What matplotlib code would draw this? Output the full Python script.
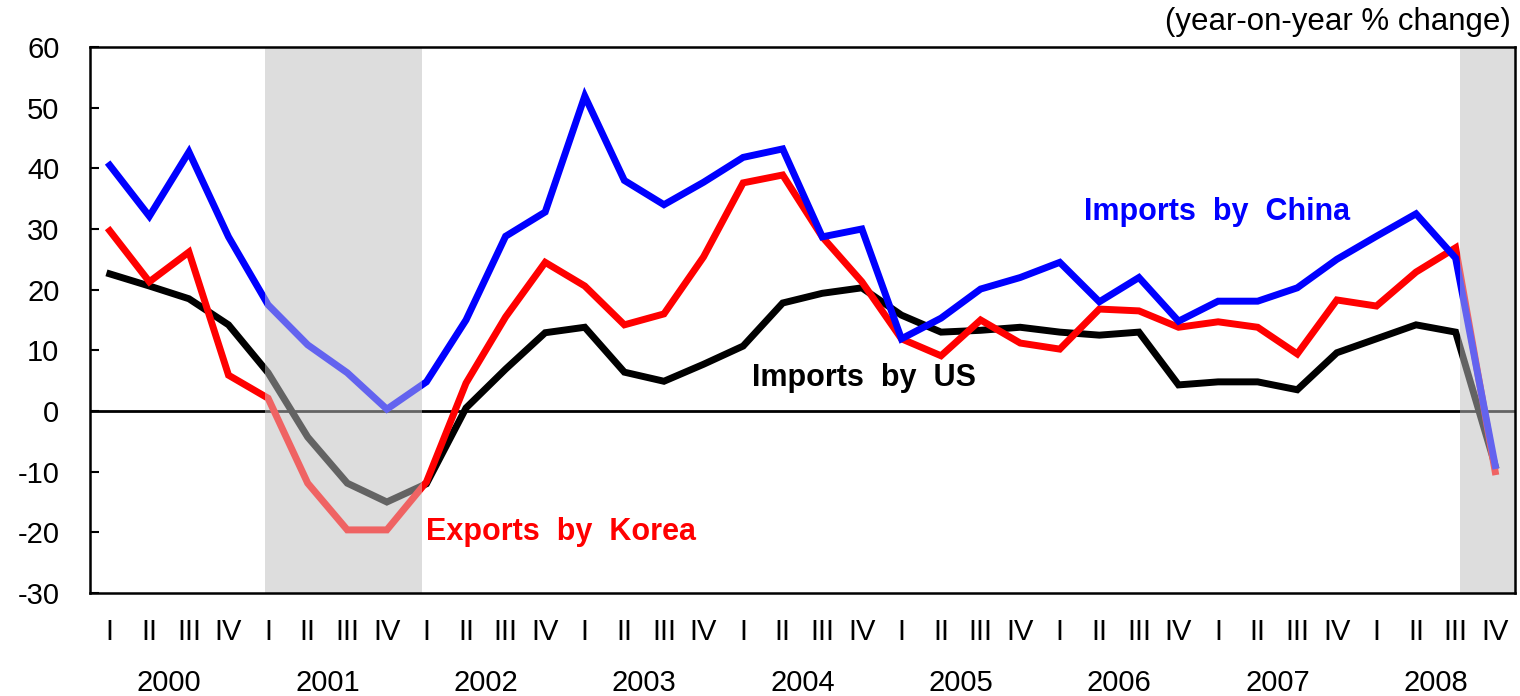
import matplotlib
matplotlib.use("Agg")
import matplotlib.pyplot as plt
import numpy as np

plt.rcParams['font.family'] = ['Liberation Sans', 'DejaVu Sans']
plt.rcParams['axes.unicode_minus'] = False

years = ['2000', '2001', '2002', '2003', '2004', '2005', '2006', '2007', '2008']
quarters = ['I', 'II', 'III', 'IV']

china = [40.5, 32.1, 42.7, 28.7, 17.5, 10.9, 6.3, 0.3, 4.8, 15.0, 28.8, 32.8,
         51.9, 38.0, 34.0, 37.7, 41.8, 43.2, 28.7, 30.0, 11.9, 15.3, 20.1, 22.0,
         24.5, 18.0, 22.0, 14.8, 18.1, 18.1, 20.3, 25.0, 28.8, 32.5, 25.2, -9.0]
korea = [29.7, 21.3, 26.2, 5.9, 2.1, -11.9, -19.6, -19.6, -11.7, 4.6, 15.5, 24.5,
         20.6, 14.2, 16.0, 25.4, 37.6, 38.9, 28.7, 21.3, 11.9, 9.1, 15.0, 11.2,
         10.2, 16.8, 16.5, 13.8, 14.7, 13.8, 9.4, 18.3, 17.3, 22.9, 26.9, -10.0]
us = [22.6, 20.6, 18.5, 14.2, 6.3, -4.3, -11.9, -15.0, -12.0, 0.5, 6.9, 12.9,
      13.8, 6.4, 4.9, 7.7, 10.7, 17.8, 19.4, 20.3, 15.8, 13.0, 13.3, 13.8,
      13.0, 12.5, 13.0, 4.3, 4.8, 4.8, 3.5, 9.6, 11.9, 14.2, 13.0, -9.0]

# recession shading (in quarter index units)
shades = [(3.92, 7.88), (34.1, 35.5)]

fig = plt.figure(figsize=(15.2, 6.96), dpi=100)
ax = fig.add_axes([0.0592, 0.148, 0.9375, 0.7845])

x = np.arange(len(china))

for a, b in shades:
    ax.axvspan(a, b, color='#DDDDDD', zorder=0, lw=0)

ax.axhline(0, color='black', lw=2, zorder=1)

ax.plot(x, us, color='black', lw=5, zorder=2, solid_joinstyle='miter')
ax.plot(x, korea, color='#FF0000', lw=5, zorder=3, solid_joinstyle='miter')
ax.plot(x, china, color='#0000FF', lw=5, zorder=4, solid_joinstyle='miter')

# grey overlay that tints the lines inside the shaded periods
for a, b in shades:
    ax.axvspan(a, b, color='#DDDDDD', alpha=0.45, zorder=5, lw=0)

ax.set_xlim(-0.5, 35.5)
ax.set_ylim(-30, 60)
ax.set_yticks(np.arange(-30, 61, 10))
ax.tick_params(axis='y', direction='in', length=6.5, width=1.5, labelsize=21, pad=22)

ax.set_xticks(x)
ax.set_xticklabels([quarters[i % 4] for i in x])
ax.tick_params(axis='x', length=0, labelsize=21, pad=18)

for i, yr in enumerate(years):
    ax.text(i * 4 + 1.5, -0.165, yr, transform=ax.get_xaxis_transform(),
            ha='center', va='center', fontsize=21)

for s in ax.spines.values():
    s.set_linewidth(1.8)
    s.set_zorder(6)

ax.text(0.997, 1.045, '(year-on-year % change)', transform=ax.transAxes,
        ha='right', va='center', fontsize=22.5)

ax.text(27.97, 32.8, 'Imports  by  China', color='#0000FF', fontsize=22,
        fontweight='bold', ha='center', va='center')
ax.text(19.06, 5.4, 'Imports  by  US', color='black', fontsize=22,
        fontweight='bold', ha='center', va='center')
ax.text(11.41, -19.9, 'Exports  by  Korea', color='#FF0000', fontsize=22,
        fontweight='bold', ha='center', va='center')

fig.savefig('out.png', dpi=100)
